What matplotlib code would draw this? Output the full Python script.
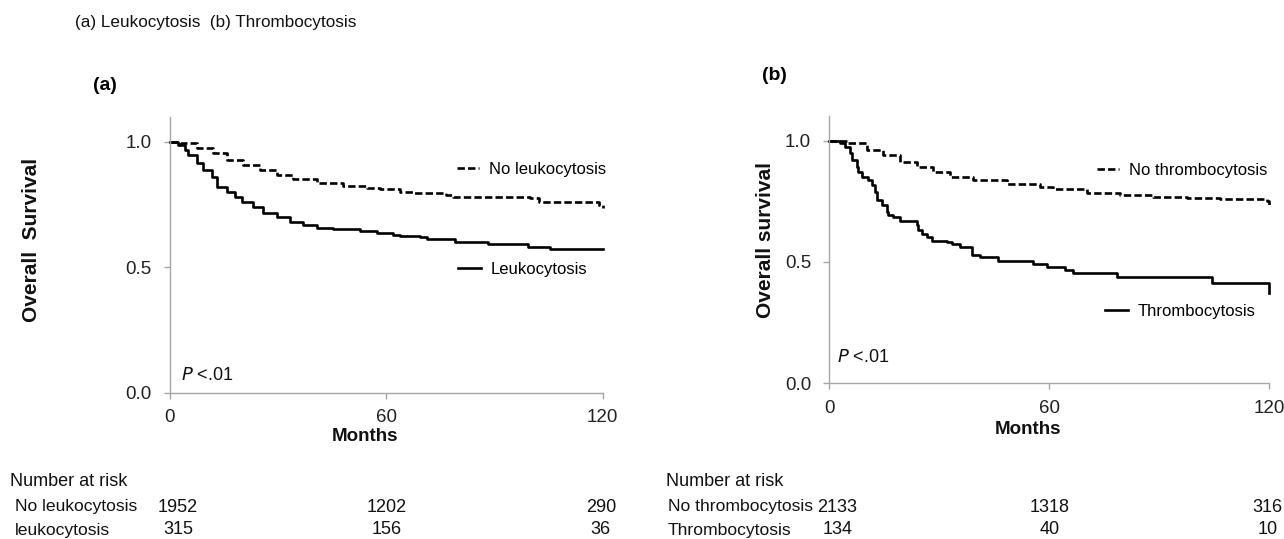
import matplotlib
matplotlib.use('Agg')
import matplotlib.pyplot as plt
import matplotlib.transforms as mtransforms

plt.rcParams['font.family'] = ['Liberation Sans', 'DejaVu Sans']

# ---- data ----
# (a) leukocytosis
leuko_months = [0, 2.3, 4.2, 5.1, 7.4, 9.2, 11.6, 12.9, 15.7, 18.0, 19.9, 23.1, 25.9, 29.6, 33.3,
                37.0, 40.7, 45.3, 52.7, 57.3, 61.9, 63.8, 69.3, 71.2, 79.0, 88.3, 99.4, 105.4, 120]
leuko_surv = [1.0, .987, .967, .947, .914, .887, .861, .821, .801, .781, .761, .741, .715, .701, .681,
              .668, .655, .651, .645, .635, .628, .624, .619, .614, .600, .592, .582, .572, .572]
no_leuko_months = [0, 2.8, 7.4, 12.0, 15.7, 20.3, 24.9, 29.6, 34.2, 40.7, 48.1, 54.5, 58.2, 63.8,
                   67.4, 76.6, 78.4, 99.7, 102.4, 119.1, 120]
no_leuko_surv = [1.0, .994, .974, .954, .927, .907, .887, .867, .850, .837, .823, .814, .810, .801,
                 .797, .788, .778, .776, .761, .748, .735]

# (b) thrombocytosis
thrombo_months = [0, 2.9, 4.3, 5.6, 6.1, 7.5, 7.9, 8.8, 10.6, 11.6, 12.5, 12.9, 14.3, 15.7, 16.1,
                  17.5, 19.3, 23.8, 24.3, 25.2, 26.6, 27.9, 32.0, 33.4, 35.6, 38.8, 41.1, 46.1, 55.5,
                  59.3, 64.3, 66.5, 78.4, 104.3, 120]
thrombo_surv = [1.0, .992, .975, .948, .920, .893, .872, .849, .838, .817, .790, .756, .735, .707, .694,
                .684, .670, .652, .632, .615, .602, .588, .584, .574, .563, .529, .519, .505, .492,
                .481, .467, .453, .440, .412, .371]
no_thrombo_months = [0, 4.7, 10.2, 14.7, 19.3, 23.8, 28.4, 32.9, 39.3, 48.4, 57.5, 61.1, 70.2, 79.3,
                     88.4, 97.5, 106.6, 119.3, 120]
no_thrombo_surv = [1.0, .989, .962, .941, .913, .893, .872, .849, .838, .822, .808, .800, .786, .776,
                   .769, .762, .758, .751, .735]

risk_months = [2.2, 60, 119.5]
risk_a = {'No leukocytosis': [1952, 1202, 290], 'leukocytosis': [315, 156, 36]}
risk_b = {'No thrombocytosis': [2133, 1318, 316], 'Thrombocytosis': [134, 40, 10]}

x_ticks = [0, 60, 120]
y_ticks = [0.0, 0.5, 1.0]

W, H = 1284, 539
TXT = '#111111'
fig = plt.figure(figsize=(W / 100, H / 100), dpi=100)


def fx(px):
    return px / W


def fy(py):
    return 1 - py / H


def setup_axes(ax, ylabel, ylabel_xy, xlabel_xy):
    ax.set_xlim(0, 120)
    ax.set_ylim(0, 1.1)
    for s in ['top', 'right']:
        ax.spines[s].set_visible(False)
    for s in ['left', 'bottom']:
        ax.spines[s].set_color('#a6a6a6')
        ax.spines[s].set_linewidth(1.0)
    ax.set_xticks(x_ticks)
    ax.set_yticks(y_ticks)
    ax.set_yticklabels(['%.1f' % v for v in y_ticks])
    ax.tick_params(axis='both', direction='out', length=4, width=1, color='#a6a6a6',
                   labelsize=13.5, labelcolor='#222222')
    ax.tick_params(axis='y', pad=9)
    ax.tick_params(axis='x', pad=8)
    ax.set_ylabel(ylabel, fontsize=15, fontweight='bold', va='center', color=TXT)
    ax.yaxis.set_label_coords(*ylabel_xy)
    ax.set_xlabel('Months', fontsize=13.5, fontweight='bold', va='top', color=TXT)
    ax.xaxis.set_label_coords(*xlabel_xy)


def add_legends(ax, h_dash, h_solid, pos_dash, pos_solid):
    kw = dict(frameon=False, loc='center left', borderaxespad=0, borderpad=0,
              handlelength=1.35, handletextpad=0.6, prop={'size': 12})
    leg1 = ax.legend(handles=[h_dash], bbox_to_anchor=pos_dash, **kw)
    ax.add_artist(leg1)
    ax.legend(handles=[h_solid], bbox_to_anchor=pos_solid, **kw)


def risk_table(ax, table, x_label_px, y_rows_px, x_head_px):
    fig.text(fx(x_head_px), fy(482), 'Number at risk', fontsize=13,
             va='center', ha='left', color=TXT)
    trans = mtransforms.blended_transform_factory(ax.transData, fig.transFigure)
    for (name, counts), ypx in zip(table.items(), y_rows_px):
        fig.text(fx(x_label_px), fy(ypx), name, fontsize=12.6,
                 va='center', ha='left', color=TXT)
        for m, c in zip(risk_months, counts):
            ax.text(m, fy(ypx), str(c), transform=trans, fontsize=13,
                    va='center', ha='center', color=TXT, clip_on=False)


line_kw = dict(color='black', lw=1.9, drawstyle='steps-post', clip_on=False)
dash = (2.8, 1.2)

# ---- panel (a) ----
ax1 = fig.add_axes([fx(170), fy(392.7), 432.7 / W, 276 / H])
d1, = ax1.plot(no_leuko_months, no_leuko_surv, dashes=dash, label='No leukocytosis', **line_kw)
s1, = ax1.plot(leuko_months, leuko_surv, label='Leukocytosis', **line_kw)
setup_axes(ax1, 'Overall  Survival', (-0.319, 0.553), (0.451, -0.128))
add_legends(ax1, d1, s1, (0.663, 0.810), (0.666, 0.448))
ax1.text(0.025, 0.064, r'$\it{P}$ <.01', transform=ax1.transAxes, fontsize=13,
         va='center', ha='left', color=TXT)
risk_table(ax1, risk_a, 15, [507, 530], 10)

# ---- panel (b) ----
ax2 = fig.add_axes([fx(829.3), fy(383.3), 440 / W, 266.9 / H])
d2, = ax2.plot(no_thrombo_months, no_thrombo_surv, dashes=dash, label='No thrombocytosis', **line_kw)
s2, = ax2.plot(thrombo_months, thrombo_surv, label='Thrombocytosis', **line_kw)
setup_axes(ax2, 'Overall survival', (-0.144, 0.537), (0.452, -0.140))
add_legends(ax2, d2, s2, (0.608, 0.799), (0.627, 0.268))
ax2.text(0.017, 0.095, r'$\it{P}$ <.01', transform=ax2.transAxes, fontsize=13,
         va='center', ha='left', color=TXT)
risk_table(ax2, risk_b, 668, [507, 530], 666)

# ---- titles ----
fig.text(fx(75), fy(23), '(a) Leukocytosis  (b) Thrombocytosis', fontsize=12.3,
         va='center', ha='left', color=TXT)
fig.text(fx(93), fy(85), '(a)', fontsize=14, fontweight='bold', va='center', ha='left')
fig.text(fx(762), fy(75), '(b)', fontsize=14, fontweight='bold', va='center', ha='left')

fig.savefig('out.png', dpi=100, facecolor='white')
